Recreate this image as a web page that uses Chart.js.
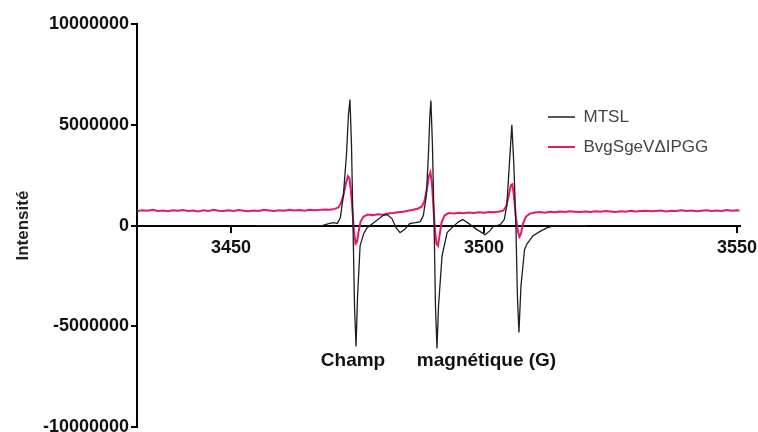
<!DOCTYPE html>
<html><head><meta charset="utf-8">
<script src="https://cdn.jsdelivr.net/npm/chart.js@4"></script>
<style>html,body{margin:0;padding:0;overflow:hidden;background:#fff}#wrap{width:758px;height:440px}</style>
</head><body><div id="wrap"><canvas id="c" width="758" height="440"></canvas></div>
<script>
const seriesNames = ['MTSL', 'BvgSgeVΔIPGG'];
const xTicks = [3450, 3500, 3550];
const yTicks = [-10000000, -5000000, 0, 5000000, 10000000];

const mtslField = [3455, 3468, 3469.3, 3470.2, 3471.0, 3471.6, 3472.2, 3472.8, 3473.2, 3473.5,
  3473.8, 3474.1, 3474.4, 3474.7, 3475.0, 3475.5, 3476.2, 3476.9, 3478.5, 3480.0,
  3480.8, 3481.8, 3482.6, 3483.4, 3484.3, 3485.3, 3486.5, 3487.4, 3488.0, 3488.6,
  3489.0, 3489.3, 3489.5, 3489.8, 3490.1, 3490.4, 3490.7, 3491.0, 3491.7, 3492.7,
  3493.9, 3495.0, 3495.8, 3497.0, 3498.6, 3500.2, 3501.2, 3501.8, 3503.2, 3504.0,
  3504.5, 3505.0, 3505.5, 3505.9, 3506.3, 3506.6, 3506.9, 3507.3, 3508.0, 3508.5,
  3509.7, 3511.0, 3512.5, 3514.0, 3520.4];
const mtslValue = [0, 0, 100000, 150000, 100000, 400000, 1500000, 3500000, 5500000, 6250000,
  4000000, 0, -4000000, -6000000, -3500000, -1000000, -400000, -100000, 200000, 500000,
  550000, 350000, -100000, -350000, -200000, 100000, 150000, 200000, 500000, 1500000,
  3500000, 5500000, 6200000, 4000000, 500000, -4000000, -6100000, -4000000, -1500000, -350000,
  -50000, 200000, 300000, 100000, -200000, -450000, -250000, -50000, 50000, 300000,
  1000000, 3000000, 5000000, 3000000, 0, -3500000, -5300000, -3000000, -1200000, -900000,
  -500000, -300000, -100000, 0, 0];

const bvgField = [3431.5, 3432.5, 3433.5, 3434.5, 3435.5, 3436.5, 3437.5, 3438.5, 3439.5, 3440.5,
  3441.5, 3442.5, 3443.5, 3444.5, 3445.5, 3446.5, 3447.5, 3448.5, 3449.5, 3450.5,
  3451.5, 3452.5, 3453.5, 3454.5, 3455.5, 3456.5, 3457.5, 3458.5, 3459.5, 3460.5,
  3461.5, 3462.5, 3463.5, 3464.5, 3465.5, 3466.5, 3467.5, 3468.5, 3469.5, 3470.5,
  3471.2, 3471.7, 3472.2, 3472.7, 3473.1, 3473.4, 3473.7, 3474.0, 3474.3, 3474.6,
  3474.9, 3475.2, 3475.6, 3476.2, 3477.0, 3478.0, 3479.0, 3480.0, 3481.0, 3482.0,
  3483.0, 3484.0, 3485.0, 3486.0, 3487.0, 3487.7, 3488.2, 3488.7, 3489.1, 3489.4,
  3489.7, 3490.0, 3490.3, 3490.6, 3490.9, 3491.2, 3491.6, 3492.2, 3493.0, 3494.0,
  3495.0, 3496.0, 3497.0, 3498.0, 3499.0, 3500.0, 3501.0, 3502.0, 3503.0, 3503.8,
  3504.4, 3504.9, 3505.3, 3505.6, 3505.9, 3506.3, 3506.7, 3507.0, 3507.3, 3507.7,
  3508.3, 3509.0, 3510.0, 3511.0, 3512.0, 3513.0, 3514.0, 3515.0, 3516.0, 3517.0,
  3518.0, 3519.0, 3520.0, 3521.0, 3522.0, 3523.0, 3524.0, 3525.0, 3526.0, 3527.0,
  3528.0, 3529.0, 3530.0, 3531.0, 3532.0, 3533.0, 3534.0, 3535.0, 3536.0, 3537.0,
  3538.0, 3539.0, 3540.0, 3541.0, 3542.0, 3543.0, 3544.0, 3545.0, 3546.0, 3547.0,
  3548.0, 3549.0, 3550.0, 3550.5];
const bvgValue = [720000, 760000, 740000, 780000, 730000, 750000, 710000, 760000, 740000, 770000,
  720000, 750000, 700000, 760000, 730000, 780000, 740000, 720000, 760000, 730000,
  770000, 740000, 710000, 750000, 730000, 780000, 750000, 720000, 760000, 740000,
  780000, 750000, 770000, 740000, 790000, 760000, 780000, 800000, 790000, 830000,
  900000, 1100000, 1500000, 2100000, 2450000, 2350000, 1700000, 700000, -300000, -900000,
  -800000, -300000, 200000, 450000, 550000, 520000, 560000, 540000, 600000, 620000,
  660000, 690000, 740000, 790000, 850000, 950000, 1200000, 1800000, 2450000, 2650000,
  2100000, 900000, -200000, -900000, -1000000, -500000, 150000, 500000, 620000, 600000,
  640000, 610000, 650000, 630000, 660000, 640000, 680000, 660000, 700000, 740000,
  950000, 1500000, 2000000, 2050000, 1500000, 400000, -300000, -550000, -400000, 100000,
  450000, 580000, 650000, 670000, 640000, 690000, 660000, 700000, 680000, 710000,
  690000, 670000, 700000, 680000, 710000, 690000, 720000, 700000, 680000, 710000,
  690000, 730000, 700000, 720000, 740000, 710000, 730000, 750000, 700000, 740000,
  720000, 760000, 730000, 750000, 710000, 740000, 760000, 720000, 750000, 730000,
  770000, 740000, 760000, 740000];

const FAMILY = '"Liberation Sans", Arial, sans-serif';

const legendMover = {
  id: 'legendMover',
  afterLayout(chart) {
    const l = chart.legend;
    if (!l) return;
    l.left = 535; l.top = 95.5;
    l.width = 220; l.height = 90;
    l.right = l.left + l.width; l.bottom = l.top + l.height;
  }
};

new Chart(document.getElementById('c'), {
  type: 'line',
  data: {
    datasets: [
      {
        label: seriesNames[0],
        data: mtslField.map((f, i) => ({x: f, y: mtslValue[i]})),
        borderColor: '#1e1e1e', backgroundColor: '#1e1e1e',
        borderWidth: 1.3, pointRadius: 0, tension: 0, fill: false
      },
      {
        label: seriesNames[1],
        data: bvgField.map((f, i) => ({x: f, y: bvgValue[i]})),
        borderColor: 'rgb(228,24,110)', backgroundColor: 'rgb(228,24,110)',
        borderWidth: 2, pointRadius: 0, tension: 0, fill: false
      }
    ]
  },
  options: {
    responsive: false,
    animation: false,
    layout: {padding: {top: 24, right: 18, bottom: 12, left: 0}},
    plugins: {
      tooltip: {enabled: false},
      legend: {
        position: 'chartArea',
        align: 'start',
        labels: {
          usePointStyle: true, pointStyle: 'line', pointStyleWidth: 27,
          padding: 13, color: '#444',
          font: {family: FAMILY, size: 17}
        }
      }
    },
    scales: {
      x: {
        type: 'linear', min: 3431.4, max: 3550.6,
        position: {y: 0},
        afterBuildTicks: s => { s.ticks = xTicks.map(v => ({value: v})); },
        afterFit: s => { s.paddingLeft = 0; s.paddingRight = 0; },
        grid: {display: true, drawOnChartArea: false, drawTicks: true, tickLength: 6, color: '#000', lineWidth: 2},
        border: {display: true, color: '#000', width: 2},
        ticks: {font: {family: FAMILY, size: 18, weight: 'bold'}, color: '#111', padding: 6,
          maxRotation: 0, autoSkip: false, callback: v => String(v)},
        title: {display: true, text: 'Champ      magnétique (G)', color: '#111',
          font: {family: FAMILY, size: 19, weight: 'bold'}, padding: {top: 84, bottom: 0}}
      },
      y: {
        type: 'linear', min: -10000000, max: 10000000, position: 'left',
        afterBuildTicks: s => { s.ticks = yTicks.map(v => ({value: v})); },
        afterFit: s => { s.width = 137; },
        grid: {display: true, drawOnChartArea: false, drawTicks: true, tickLength: 6, color: '#000', lineWidth: 2},
        border: {display: true, color: '#000', width: 2},
        ticks: {font: {family: FAMILY, size: 18, weight: 'bold'}, color: '#111', padding: 2,
          callback: v => String(v)},
        title: {display: true, text: 'Intensité', color: '#222',
          font: {family: FAMILY, size: 17, weight: 'bold'}, padding: {top: 13, bottom: 0}}
      }
    }
  },
  plugins: [legendMover]
});
</script>
</body></html>
